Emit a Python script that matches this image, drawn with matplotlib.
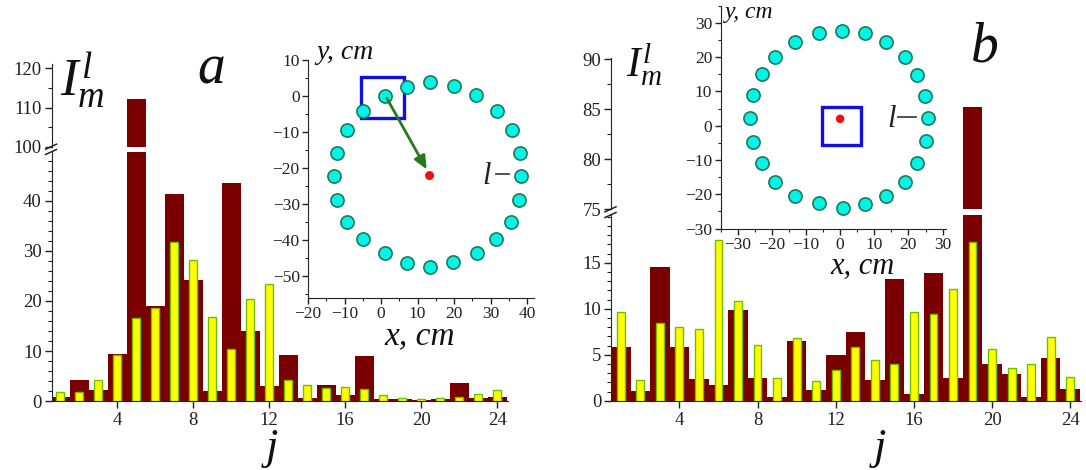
import matplotlib
matplotlib.use('Agg')
import matplotlib.pyplot as plt
from matplotlib.ticker import MultipleLocator, FixedLocator
from matplotlib.lines import Line2D
from matplotlib.patches import Rectangle

plt.rcParams['font.family'] = ['Liberation Serif', 'DejaVu Serif']
plt.rcParams['mathtext.fontset'] = 'custom'
plt.rcParams['mathtext.rm'] = 'Liberation Serif'
plt.rcParams['mathtext.it'] = 'Liberation Serif:italic'

# ---------------- data ----------------
j = list(range(1, 25))
a_dark = [0.9, 4.3, 2.3, 9.5, 112.1, 19.0, 41.3, 24.3, 2.1, 43.5, 14.0, 3.0,
          9.2, 0.7, 3.2, 1.3, 9.0, 0.4, 0.5, 0.2, 0.5, 3.7, 0.7, 0.9]
a_yellow = [1.8, 1.9, 4.3, 9.3, 16.6, 18.7, 31.7, 28.3, 16.9, 10.5, 20.5, 23.5,
            4.3, 3.2, 2.7, 2.9, 2.5, 1.3, 0.7, 0.5, 0.7, 0.9, 1.5, 2.2]
b_dark = [5.8, 1.05, 14.5, 5.8, 2.4, 1.7, 9.85, 2.5, 0.45, 6.5, 1.2, 5.0,
          7.5, 2.2, 13.2, 0.7, 13.9, 2.5, 85.2, 4.0, 2.9, 0.4, 4.6, 1.3]
b_yellow = [9.6, 2.3, 8.5, 8.0, 7.8, 17.5, 10.8, 6.05, 2.5, 6.85, 2.1, 3.3,
            5.8, 4.4, 4.0, 9.7, 9.4, 12.1, 17.3, 5.6, 3.6, 4.0, 6.9, 2.6]

# receiver positions (insets)
ia_x = [1.2, 7.1, 13.5, 19.9, 26.1, 31.8, 35.9, 38.0, 38.4, 37.7, 35.6, 31.6,
        26.3, 19.7, 13.5, 7.1, 1.0, -4.9, -9.3, -12.0, -12.8, -12.0, -9.3, -4.8]
ia_y = [0.1, 2.6, 3.8, 2.8, 0.2, -4.2, -9.4, -15.7, -22.1, -28.9, -34.9, -39.8,
        -43.5, -46.2, -47.4, -46.5, -43.7, -39.8, -35.1, -28.9, -22.1, -15.7, -9.4, -4.2]
ib_x = [0.5, 7.3, 13.3, 19.0, 22.4, 24.8, 25.7, 25.0, 22.6, 19.0, 13.4, 7.3,
        0.7, -6.3, -13.1, -19.0, -22.8, -25.5, -26.4, -25.5, -22.8, -19.0, -13.1, -6.3]
ib_y = [27.7, 26.9, 24.3, 20.1, 14.8, 8.7, 2.2, -4.5, -11.0, -16.5, -20.5, -22.9,
        -24.1, -22.6, -20.4, -16.3, -11.0, -4.7, 2.2, 8.9, 15.1, 20.1, 24.3, 26.9]
src_a = (13.3, -22.1)
src_b = (0.0, 2.0)
arrow_a_start = (1.2, 0.1)
square_a = (-5.5, -6.0, 11.7, 11.2)
square_b = (-5.3, -5.6, 11.4, 11.0)
xticks_main = [4, 8, 12, 16, 20, 24]
yticks_a_lo = [0, 10, 20, 30, 40]
yticks_a_hi = [100, 110, 120]
yticks_b_lo = [0, 5, 10, 15]
yticks_b_hi = [75, 80, 85, 90]

W, H = 1086, 470
fig = plt.figure(figsize=(W / 100, H / 100), dpi=100)


def rect(l, r, top, bottom):
    return [l / W, 1 - bottom / H, (r - l) / W, (bottom - top) / H]


DARK = '#7a0000'
YEL = '#ffff00'
YEDGE = '#6cc000'
SPINE = '#222222'


def style_axis(ax, show_bottom):
    for s in ['top', 'right']:
        ax.spines[s].set_visible(False)
    ax.spines['left'].set_color(SPINE)
    ax.spines['bottom'].set_color(SPINE)
    ax.spines['bottom'].set_visible(show_bottom)
    ax.tick_params(axis='y', which='major', direction='out', length=5, width=1,
                   labelsize=13.5, colors=SPINE, pad=2)
    ax.tick_params(axis='y', which='minor', direction='out', length=3, width=0.8,
                   colors=SPINE)
    if show_bottom:
        ax.tick_params(axis='x', which='major', direction='out', length=5, width=1,
                       labelsize=13.5, colors=SPINE, pad=3)
    else:
        ax.tick_params(axis='x', which='both', bottom=False, labelbottom=False)
    ax.set_facecolor('none')


def draw_bars(ax, dark, yellow):
    ax.bar(j, dark, width=1.0, color=DARK, edgecolor='none', zorder=2)
    ax.bar(j, yellow, width=0.4, color=YEL, edgecolor=YEDGE, linewidth=1.0, zorder=3)


def break_marks(x_px, y_top, y_bot):
    for yy in (y_top, y_bot):
        fig.add_artist(Line2D([(x_px - 6) / W, (x_px + 5) / W],
                              [1 - (yy + 2.5) / H, 1 - (yy - 2.5) / H],
                              color=SPINE, lw=1.1))


# ---------------- panel a ----------------
axa_lo = fig.add_axes(rect(51.5, 508.4, 152, 401))
axa_hi = fig.add_axes(rect(51.5, 508.4, 64.4, 146.7))
for ax, ylim in ((axa_lo, (0, 49.8)), (axa_hi, (100, 121))):
    draw_bars(ax, a_dark, a_yellow)
    ax.set_xlim(0.55, 24.6)
    ax.set_ylim(*ylim)
style_axis(axa_lo, True)
style_axis(axa_hi, False)
axa_lo.set_xticks(xticks_main)
axa_lo.yaxis.set_major_locator(FixedLocator(yticks_a_lo))
axa_lo.yaxis.set_minor_locator(MultipleLocator(2))
axa_hi.yaxis.set_major_locator(FixedLocator(yticks_a_hi))
axa_hi.yaxis.set_minor_locator(MultipleLocator(5))
break_marks(51.5, 146.7, 152)

# ---------------- panel b ----------------
axb_lo = fig.add_axes(rect(611, 1081, 215, 400.7))
axb_hi = fig.add_axes(rect(611, 1081, 58.3, 209.3))
for ax, ylim in ((axb_lo, (0, 20.2)), (axb_hi, (75, 90.1))):
    draw_bars(ax, b_dark, b_yellow)
    ax.set_xlim(0.5, 24.55)
    ax.set_ylim(*ylim)
style_axis(axb_lo, True)
style_axis(axb_hi, False)
axb_lo.set_xticks(xticks_main)
axb_lo.yaxis.set_major_locator(FixedLocator(yticks_b_lo))
axb_lo.yaxis.set_minor_locator(MultipleLocator(1))
axb_hi.yaxis.set_major_locator(FixedLocator(yticks_b_hi))
axb_hi.yaxis.set_minor_locator(MultipleLocator(2.5))
break_marks(611, 209.3, 215)


# ---------------- insets ----------------
def style_inset(ax):
    for s in ['top', 'right']:
        ax.spines[s].set_visible(False)
    ax.spines['left'].set_color(SPINE)
    ax.spines['bottom'].set_color(SPINE)
    ax.set_facecolor('none')
    ax.tick_params(which='major', direction='out', length=4, width=1,
                   labelsize=12.5, colors=SPINE, pad=2)
    ax.tick_params(which='minor', direction='out', length=2.5, width=0.8, colors=SPINE)
    ax.xaxis.set_major_locator(MultipleLocator(10))
    ax.xaxis.set_minor_locator(MultipleLocator(5))
    ax.yaxis.set_major_locator(MultipleLocator(10))
    ax.yaxis.set_minor_locator(MultipleLocator(5))


CYAN = '#00f5e8'
CEDGE = '#1e7a55'

ia = fig.add_axes(rect(308, 534.3, 60, 297.6))
ia.set_xlim(-20, 42)
ia.set_ylim(-56, 10)
style_inset(ia)
ia.add_patch(Rectangle(square_a[:2], square_a[2], square_a[3], fill=False,
                       edgecolor='#1010e0', lw=2.4, zorder=3))
ia.scatter(ia_x, ia_y, s=90, c=CYAN, edgecolors=CEDGE, linewidths=1.2, zorder=4)
ia.annotate('', xy=(src_a[0] - 0.4, src_a[1] + 1.0), xytext=arrow_a_start,
            arrowprops=dict(arrowstyle='-|>,head_width=0.35,head_length=0.8',
                            color='#267a1e', lw=2.0), zorder=5)
ia.scatter([src_a[0]], [src_a[1]], s=42, c='#ee1111', edgecolors='none', zorder=6)
ia.text(29.0, -22.3, 'l', fontsize=22, style='italic', ha='center', va='center',
        color='#222222', zorder=5)
ia.plot([31.6, 35.2], [-21.6, -21.6], color='#333333', lw=1.2, zorder=5)

ib = fig.add_axes(rect(720.6, 946, 5.6, 228.6))
ib.set_xlim(-35, 31)
ib.set_ylim(-30, 35)
style_inset(ib)
ib.add_patch(Rectangle(square_b[:2], square_b[2], square_b[3], fill=False,
                       edgecolor='#1010e0', lw=2.4, zorder=3))
ib.scatter(ib_x, ib_y, s=90, c=CYAN, edgecolors=CEDGE, linewidths=1.2, zorder=4)
ib.scatter([src_b[0]], [src_b[1]], s=38, c='#ee1111', edgecolors='none', zorder=6)
ib.text(15.0, 1.8, 'l', fontsize=22, style='italic', ha='center', va='center',
        color='#222222', zorder=5)
ib.plot([16.8, 22.2], [2.6, 2.6], color='#333333', lw=1.2, zorder=5)


# ---------------- texts ----------------
def ftext(x, y, s, **kw):
    fig.text(x / W, 1 - y / H, s, **kw)


ftext(60, 95, r'$I_m^l$', fontsize=38, ha='left', va='baseline', color='#111111')
ftext(211, 70, 'a', fontsize=40, style='italic', ha='center', va='center', color='#111111')
ftext(626, 76, r'$I_m^l$', fontsize=30, ha='left', va='baseline', color='#111111')
ftext(985, 48, 'b', fontsize=40, style='italic', ha='center', va='center', color='#111111')
ftext(272, 448, 'j', fontsize=32, style='italic', ha='center', va='center', color='#111111')
ftext(880, 448, 'j', fontsize=32, style='italic', ha='center', va='center', color='#111111')
ftext(316, 59, 'y, cm', fontsize=20, style='italic', ha='left', va='baseline', color='#111111')
ftext(725, 18, 'y, cm', fontsize=17, style='italic', ha='left', va='baseline', color='#111111')
ftext(420, 344, 'x, cm', fontsize=24, style='italic', ha='center', va='baseline', color='#111111')
ftext(862, 274, 'x, cm', fontsize=22, style='italic', ha='center', va='baseline', color='#111111')

fig.savefig('out.png', dpi=100, facecolor='white')
